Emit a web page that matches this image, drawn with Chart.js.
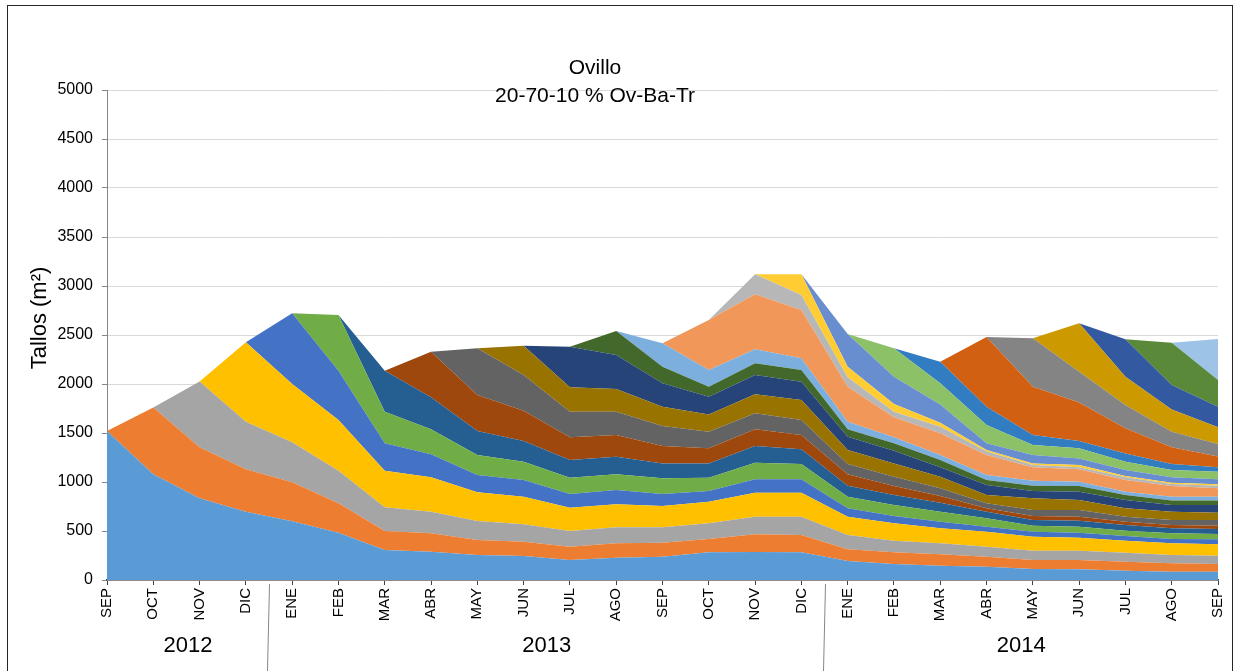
<!DOCTYPE html>
<html>
<head>
<meta charset="utf-8">
<script src="https://cdn.jsdelivr.net/npm/chart.js@4.4.1/dist/chart.umd.min.js"></script>
<style>
  html, body { margin: 0; padding: 0; background: #fff; }
  #wrap { width: 1239px; height: 671px; position: relative; }
</style>
</head>
<body>
<div id="wrap"><canvas id="chart"></canvas></div>
<script>
// meses (eje X) y grupos de año
const months = ['SEP','OCT','NOV','DIC','ENE','FEB','MAR','ABR','MAY','JUN','JUL','AGO',
                'SEP','OCT','NOV','DIC','ENE','FEB','MAR','ABR','MAY','JUN','JUL','AGO','SEP'];
const years = ['2012', '2013', '2014'];
const yearMonths = [4, 12, 9];
const yTicks = [0, 500, 1000, 1500, 2000, 2500, 3000, 3500, 4000, 4500, 5000];

// cohortes: tallos/m2 desde el mes de aparicion
const sep12 = [1520,1080,835,697,600,483,306,289,255,245,204,228,238,282,286,282,194,163,146,136,112,109,95,85,85];
const oct12 = [680,520,432,397,299,194,187,153,146,136,146,143,136,180,177,119,119,116,102,92,95,92,85,78];
const nov12 = [670,487,408,333,242,221,194,177,160,163,156,160,180,187,146,119,112,102,95,95,92,85,85];
const dic12 = [809,595,518,373,351,293,282,238,235,218,221,245,245,187,177,153,153,143,133,122,119,116];
const ene13 = [721,503,280,234,176,170,140,146,123,109,136,136,85,75,68,51,51,51,48,44,51];
const feb13 = [568,323,255,205,187,166,160,159,136,170,157,119,112,102,85,61,61,54,58,54];
const mar13 = [418,327,244,211,180,180,153,146,170,149,112,102,92,68,58,61,58,51,51];
const abr13 = [466,368,310,232,222,177,154,170,147,116,92,68,34,41,41,34,34,34];
const may13 = [476,364,262,238,204,170,164,153,106,95,78,51,61,68,51,51,58];
const jun13 = [299,248,231,198,176,194,204,143,136,119,85,119,102,85,85,75];
const jul13 = [415,347,238,181,197,187,136,130,96,102,75,85,85,68,78];
const ago13 = [245,170,102,119,119,74,75,74,51,54,58,51,45,45];
const sep13 = [238,170,143,119,79,61,52,51,51,44,34,40,40];
const oct13 = [510,561,493,357,204,221,205,137,126,119,109,85];
const nov13 = [204,153,95,58,68,34,23,21,28,21,27];
const dic13 = [211,109,78,40,17,17,23,13,13,14];
const ene14 = [333,279,185,68,86,68,61,55,51];
const feb14 = [289,217,187,102,103,85,74,78];
const mar14 = [221,187,102,74,83,62,45];
const abr14 = [711,493,392,258,170,109];
const may14 = [493,316,238,160,129];
const jun14 = [493,289,227,170];
const jul14 = [381,249,211];
const ago14 = [432,272];
const sep14 = [418];

const cohorts = [sep12, oct12, nov12, dic12, ene13, feb13, mar13, abr13, may13, jun13, jul13, ago13,
                 sep13, oct13, nov13, dic13, ene14, feb14, mar14, abr14, may14, jun14, jul14, ago14, sep14];

const colors = ['#5B9BD5','#ED7D31','#A5A5A5','#FFC000','#4472C4','#70AD47',
                '#255E91','#9E480E','#636363','#997300','#264478','#43682B',
                '#7CAFDD','#F1975A','#B7B7B7','#FFCD33','#698ED0','#8CC168',
                '#327DC2','#D26012','#848484','#CC9A00','#335AA1','#5A8A39','#9DC3E6'];

const FONT = '"Liberation Sans", Arial, sans-serif';

// antes de aparecer la cohorte vale 0
const datasets = cohorts.map((c, i) => ({
    label: months[i] + ' ' + i,
    data: new Array(months.length - c.length).fill(0).concat(c),
    backgroundColor: colors[i],
    borderWidth: 0,
    pointRadius: 0,
    tension: 0,
    fill: i === 0 ? 'origin' : '-1'
}));

// textos, grupos de año y marco
const decor = {
    id: 'decor',
    afterDraw(chart) {
        const ctx = chart.ctx;
        const x = chart.scales.x;
        ctx.save();
        ctx.fillStyle = '#000';
        ctx.textAlign = 'center';
        ctx.textBaseline = 'middle';
        ctx.font = '21px ' + FONT;
        ctx.fillText('Ovillo', 595, 68);
        ctx.fillText('20-70-10 % Ov-Ba-Tr', 595, 96);

        ctx.save();
        ctx.translate(40, 318);
        ctx.rotate(-Math.PI / 2);
        ctx.font = '22px ' + FONT;
        ctx.fillText('Tallos (m\u00B2)', 0, 0);
        ctx.restore();

        const last = months.length - 1;
        let start = 0;
        ctx.font = '22px ' + FONT;
        ctx.strokeStyle = '#868686';
        ctx.lineWidth = 1;
        yearMonths.forEach((n, g) => {
            const end = start + n - 1;
            const left = start === 0 ? x.getPixelForValue(0)
                : (x.getPixelForValue(start - 1) + x.getPixelForValue(start)) / 2;
            const right = end === last ? x.getPixelForValue(last)
                : (x.getPixelForValue(end) + x.getPixelForValue(end + 1)) / 2;
            ctx.fillText(years[g], (left + right) / 2, 646);
            if (end !== last) {
                ctx.beginPath();
                ctx.moveTo(Math.round(right) + 0.5, 584);
                ctx.lineTo(Math.round(right) - 1.5, 671);
                ctx.stroke();
            }
            start = end + 1;
        });

        ctx.strokeStyle = '#262626';
        ctx.lineWidth = 1;
        ctx.strokeRect(7.5, 5.5, 1225, 700);
        ctx.restore();
    }
};

new Chart(document.getElementById('chart'), {
    type: 'line',
    data: { labels: months, datasets: datasets },
    plugins: [decor],
    options: {
        responsive: true,
        maintainAspectRatio: false,
        animation: false,
        layout: { padding: { left: 0, right: 17, top: 90, bottom: 0 } },
        plugins: {
            legend: { display: false },
            tooltip: { enabled: false },
            title: { display: false }
        },
        scales: {
            x: {
                type: 'category',
                offset: false,
                grid: { display: true, drawOnChartArea: false, drawTicks: true, tickLength: 5, color: '#404040' },
                border: { color: '#404040', width: 1.5 },
                ticks: {
                    autoSkip: false, maxRotation: 90, minRotation: 90, padding: 3,
                    color: '#000', font: { family: FONT, size: 15 }
                },
                afterFit(scale) { scale.height = 91; }
            },
            y: {
                stacked: true,
                min: 0,
                max: 5000,
                afterBuildTicks(scale) { scale.ticks = yTicks.map(v => ({ value: v })); },
                grid: { color: '#D9D9D9', tickColor: '#868686', tickLength: 5 },
                border: { color: '#868686' },
                ticks: {
                    padding: 9, color: '#000', font: { family: FONT, size: 16 },
                    callback: v => String(v)
                },
                afterFit(scale) { scale.width = 107; }
            }
        }
    }
});
</script>
</body>
</html>
